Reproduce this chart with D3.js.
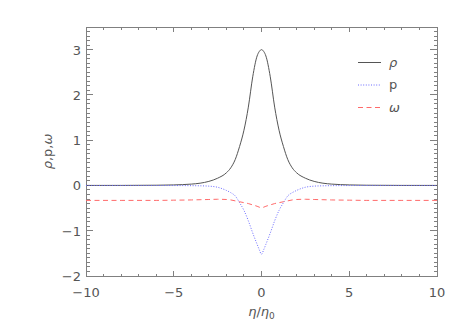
<!DOCTYPE html>
<html>
<head>
<meta charset="utf-8">
<script src="https://cdn.jsdelivr.net/npm/d3@7"></script>
<style>
  body { margin: 0; background: #fff; }
  svg text { font-family: "DejaVu Sans", sans-serif; fill: #555; }
</style>
</head>
<body>
<svg id="chart"></svg>
<script>
var width = 463;
var height = 331;

// values
var eta   = [-10, -8, -6, -5, -4, -3.5, -3, -2.5, -2, -1.75, -1.5, -1.25, -1, -0.75, -0.5, -0.25, -0.125, 0,
             0.125, 0.25, 0.5, 0.75, 1, 1.25, 1.5, 1.75, 2, 2.5, 3, 3.5, 4, 5, 6, 8, 10];
var rho   = [0.0005, 0.001, 0.005, 0.012, 0.03, 0.05, 0.09, 0.16, 0.28, 0.39, 0.57, 0.86, 1.22, 1.73, 2.40, 2.86, 2.96, 3.0,
             2.96, 2.86, 2.40, 1.73, 1.22, 0.86, 0.57, 0.39, 0.28, 0.16, 0.09, 0.05, 0.03, 0.012, 0.005, 0.001, 0.0005];
var pres  = [0, 0, -0.001, -0.002, -0.005, -0.008, -0.015, -0.04, -0.11, -0.16, -0.23, -0.38, -0.55, -0.78, -1.05, -1.30, -1.42, -1.52,
             -1.42, -1.30, -1.05, -0.78, -0.55, -0.38, -0.23, -0.16, -0.11, -0.04, -0.015, -0.008, -0.005, -0.002, -0.001, 0, 0];
var omega = [-0.33, -0.33, -0.33, -0.325, -0.32, -0.315, -0.31, -0.305, -0.31, -0.32, -0.34, -0.36, -0.38, -0.40, -0.43, -0.46, -0.48, -0.50,
             -0.48, -0.46, -0.43, -0.40, -0.38, -0.36, -0.34, -0.32, -0.31, -0.305, -0.31, -0.315, -0.32, -0.325, -0.33, -0.33, -0.33];

var xTicks = [-10, -5, 0, 5, 10];
var yTicks = [-2, -1, 0, 1, 2, 3];

var series = [
  {name: "\u03c1", values: rho, color: "#555", dash: null, italic: true},
  {name: "p", values: pres, color: "#6a6aff", dash: "1,1.6", italic: false},
  {name: "\u03c9", values: omega, color: "#ff6a6a", dash: "5,3.5", italic: true}
];

var margin = {left: 86, right: 26, top: 27, bottom: 55};

var svg = d3.select('#chart')
    .attr('width', width)
    .attr('height', height);

var x = d3.scaleLinear().domain([-10, 10]).range([margin.left, width - margin.right]);
var y = d3.scaleLinear().domain([-2, 3.5]).range([height - margin.bottom, margin.top]);

var axisColor = "#808080";

// minor + major ticks, inward on all four sides
var xMinor = d3.range(-10, 10.001, 1);
var yMinor = d3.range(-2, 3.5001, 0.1);

function drawTicks(g, vals, isX, len) {
  vals.forEach(function(v) {
    if (isX) {
      var px = x(v);
      g.append('line').attr('x1', px).attr('x2', px).attr('y1', y(-2)).attr('y2', y(-2) - len);
      g.append('line').attr('x1', px).attr('x2', px).attr('y1', y(3.5)).attr('y2', y(3.5) + len);
    } else {
      var py = y(v);
      g.append('line').attr('y1', py).attr('y2', py).attr('x1', x(-10)).attr('x2', x(-10) + len);
      g.append('line').attr('y1', py).attr('y2', py).attr('x1', x(10)).attr('x2', x(10) - len);
    }
  });
}

var tg = svg.append('g').attr('stroke', axisColor).attr('stroke-width', 1).attr('shape-rendering', 'crispEdges');
drawTicks(tg, xMinor, true, 2.5);
drawTicks(tg, xTicks, true, 5);
drawTicks(tg, yMinor, false, 3.5);
drawTicks(tg, yTicks, false, 7);

svg.append('rect')
    .attr('x', x(-10)).attr('y', y(3.5))
    .attr('width', x(10) - x(-10)).attr('height', y(-2) - y(3.5))
    .attr('fill', 'none').attr('stroke', axisColor).attr('stroke-width', 1)
    .attr('shape-rendering', 'crispEdges');

// tick labels
function fmt(v) { return v < 0 ? "\u2212" + Math.abs(v) : String(v); }

svg.selectAll('.xlab').data(xTicks).enter().append('text')
    .attr('x', function(d) { return x(d); })
    .attr('y', 297)
    .attr('text-anchor', 'middle')
    .style('font-size', '13px')
    .text(fmt);

svg.selectAll('.ylab').data(yTicks).enter().append('text')
    .attr('x', 81)
    .attr('y', function(d) { return y(d) + 5; })
    .attr('text-anchor', 'end')
    .style('font-size', '13px')
    .text(fmt);

// axis titles
var xt = svg.append('text')
    .attr('x', x(0)).attr('y', 316)
    .attr('text-anchor', 'middle')
    .style('font-size', '13px');
xt.append('tspan').style('font-style', 'italic').text('\u03b7');
xt.append('tspan').text('/');
xt.append('tspan').style('font-style', 'italic').text('\u03b7');
xt.append('tspan').style('font-size', '9px').attr('dy', 3).text('0');

var yt = svg.append('text')
    .attr('transform', 'translate(52,' + ((y(3.5) + y(-2)) / 2) + ') rotate(-90)')
    .attr('text-anchor', 'middle')
    .style('font-size', '13px');
yt.append('tspan').style('font-style', 'italic').text('\u03c1');
yt.append('tspan').text(',p,');
yt.append('tspan').style('font-style', 'italic').text('\u03c9');

// curves
var line = d3.line()
    .x(function(d) { return x(d[0]); })
    .y(function(d) { return y(d[1]); })
    .curve(d3.curveMonotoneX);

series.forEach(function(s) {
  var pts = eta.map(function(e, i) { return [e, s.values[i]]; });
  svg.append('path')
      .attr('d', line(pts))
      .attr('fill', 'none')
      .attr('stroke', s.color)
      .attr('stroke-width', 1)
      .attr('stroke-dasharray', s.dash);
});

// legend
var lg = svg.append('g');
series.forEach(function(s, i) {
  var ly = 62.5 + i * 22.5;
  lg.append('line')
      .attr('x1', 358).attr('x2', 381)
      .attr('y1', ly).attr('y2', ly)
      .attr('stroke', s.color).attr('stroke-width', 1)
      .attr('stroke-dasharray', s.dash);
  lg.append('text')
      .attr('x', 389).attr('y', ly + 4)
      .style('font-size', '13px')
      .style('font-style', s.italic ? 'italic' : 'normal')
      .text(s.name);
});
</script>
</body>
</html>
